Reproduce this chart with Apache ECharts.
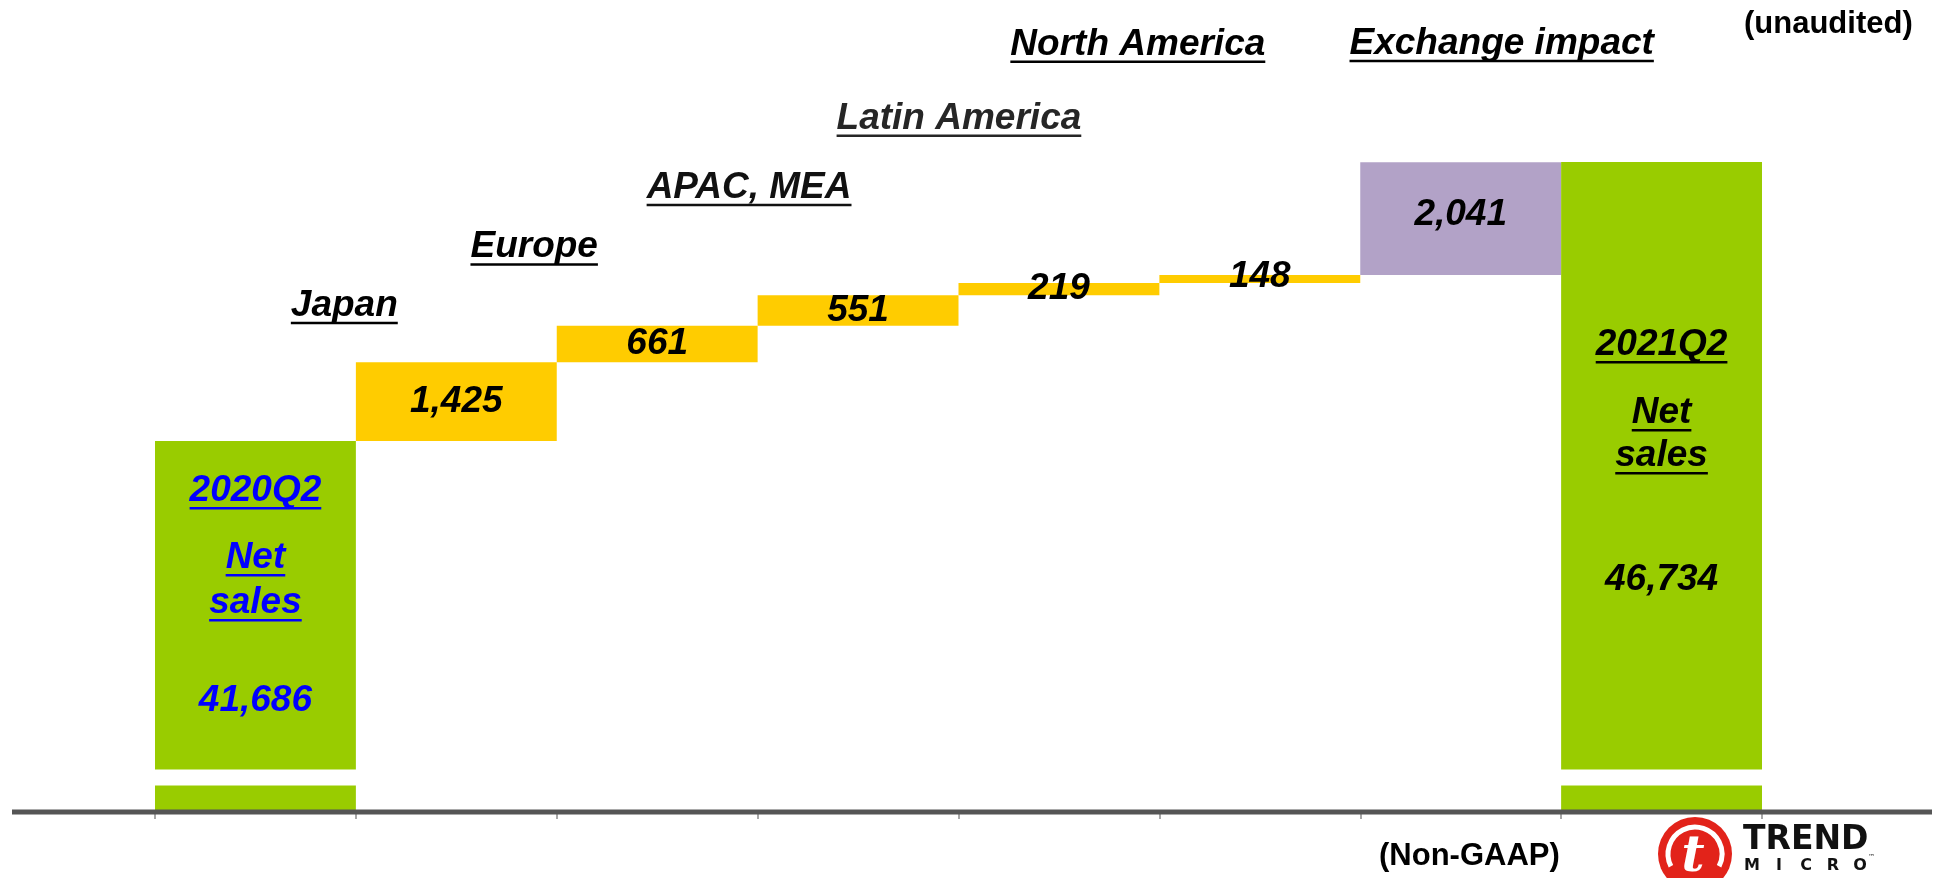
<!DOCTYPE html>
<html>
<head>
<meta charset="utf-8">
<script src="https://cdn.jsdelivr.net/npm/echarts@6/dist/echarts.min.js"></script>
<style>
  html, body { margin: 0; padding: 0; background: #fff; }
  #chart { width: 1939px; height: 878px; }
</style>
</head>
<body>
<div id="chart"></div>
<script>
// Net sales bridge 2020Q2 -> 2021Q2 (JPY million)
const categories = ['2020Q2 Net sales', 'Japan', 'Europe', 'APAC, MEA', 'Latin America', 'North America', 'Exchange impact', '2021Q2 Net sales'];
const openingSales = 41686;
const regionGrowth = [1425, 661, 551, 219, 148];
const exchangeImpact = 2041;
const closingSales = 46734;
const stepHeadings = ['Japan', 'Europe', 'APAC, MEA', 'Latin America', 'North America', 'Exchange impact'];
const openingTitle = ['2020Q2', 'Net', 'sales'];
const closingTitle = ['2021Q2', 'Net', 'sales'];

const FONT = '"Liberation Sans", Arial, sans-serif';
const GREEN = '#99CC00', YELLOW = '#FFCC00', PURPLE = '#B2A2C7';
const fmt = v => v.toLocaleString('en-US');

// canvas used to size the underline strokes
const measureCtx = document.createElement('canvas').getContext('2d');
function textWidth(text, size) {
  measureCtx.font = `italic bold ${size}px ${FONT}`;
  return measureCtx.measureText(text).width;
}

// Build a rich-text block: each entry is a text line, optionally underlined,
// followed by a vertical gap (the underline line's height).
function richBlock(entries, color) {
  const rich = {};
  const parts = [];
  entries.forEach((e, i) => {
    const t = 't' + i, u = 'u' + i;
    rich[t] = { fontFamily: FONT, fontSize: 37, fontWeight: 'bold', fontStyle: 'italic', color, lineHeight: 32 };
    parts.push(`{${t}|${e.text}}`);
    if (e.after != null) {
      rich[u] = {
        width: e.underline ? textWidth(e.text, 37) : 1,
        height: 2.5,
        backgroundColor: e.underline ? color : 'transparent',
        verticalAlign: 'top',
        lineHeight: e.after
      };
      parts.push(`{${u}|}`);
    }
  });
  return { formatter: parts.join('\n'), rich, lineHeight: 1 };
}

// waterfall pieces
const n = categories.length;
const baseData = new Array(n).fill('-');
const growthData = new Array(n).fill('-');
const fxData = new Array(n).fill('-');
const totalData = new Array(n).fill('-');
const stepTops = [];
let running = openingSales;
regionGrowth.forEach((v, i) => {
  baseData[i + 1] = running;
  growthData[i + 1] = v;
  running += v;
  stepTops.push(running);
});
baseData[6] = running;
fxData[6] = exchangeImpact;
running += exchangeImpact;
stepTops.push(running);

// small vertical nudges for the in-bar value labels
growthData[5] = { value: growthData[5], label: { offset: [0, -2] } };
fxData[6] = { value: fxData[6], label: { offset: [0, -4] } };

const openingLabel = richBlock([
  { text: openingTitle[0], underline: true, after: 35 },
  { text: openingTitle[1], underline: true, after: 13 },
  { text: openingTitle[2], underline: true, after: 66 },
  { text: fmt(openingSales) }
], '#0000FF');
const closingLabel = richBlock([
  { text: closingTitle[0], underline: true, after: 36 },
  { text: closingTitle[1], underline: true, after: 11 },
  { text: closingTitle[2], underline: true, after: 92 },
  { text: fmt(closingSales) }
], '#000000');

totalData[0] = {
  value: openingSales,
  label: Object.assign({ show: true, position: 'insideTop', distance: 0, offset: [0, 34] }, openingLabel)
};
totalData[7] = {
  value: closingSales,
  label: Object.assign({ show: true, position: 'insideTop', distance: 0, offset: [0, 167] }, closingLabel)
};

// headings above each step, shifted relative to the step's top
const headingOffsets = [[-112, -55], [-123, -77], [-109, -106], [-100, -163], [-122, -229], [41, -117]];
const headingColors = ['#000', '#000', '#111', '#262626', '#000', '#000'];
const headingData = stepHeadings.map((name, i) => ({
  value: [categories[i + 1], stepTops[i]],
  label: Object.assign({ show: true, position: 'inside', offset: headingOffsets[i] },
    richBlock([{ text: name, underline: true, after: 3 }], headingColors[i]))
}));

const valueLabel = {
  show: true, position: 'inside', color: '#000',
  fontFamily: FONT, fontSize: 37, fontWeight: 'bold', fontStyle: 'italic',
  formatter: p => fmt(p.value)
};

const chart = echarts.init(document.getElementById('chart'), null, { renderer: 'canvas' });
const option = {
  animation: false,
  backgroundColor: '#fff',
  grid: { left: 155, right: 177, top: 92, bottom: 66 },
  xAxis: {
    type: 'category',
    data: categories,
    axisLine: { show: false },
    axisTick: { show: true, interval: 0, length: 7, lineStyle: { color: '#8a8a8a', width: 1.5 } },
    axisLabel: { show: false },
    splitLine: { show: false }
  },
  yAxis: {
    type: 'value',
    min: 0,
    max: 48000,
    breaks: [{ start: 488, end: 35751, gap: 290 }],
    breakArea: {
      show: true,
      itemStyle: { color: '#fff', borderWidth: 0, borderColor: 'transparent', opacity: 1 },
      zigzagAmplitude: 0,
      expandOnClick: false
    },
    axisLine: { show: false },
    axisTick: { show: false },
    axisLabel: { show: false },
    splitLine: { show: false }
  },
  series: [
    {
      name: 'base', type: 'bar', stack: 'bridge', data: baseData,
      barCategoryGap: '0%', silent: true,
      itemStyle: { color: 'transparent' }
    },
    {
      name: 'Regional growth', type: 'bar', stack: 'bridge', data: growthData,
      itemStyle: { color: YELLOW }, label: valueLabel
    },
    {
      name: 'Exchange impact', type: 'bar', stack: 'bridge', data: fxData,
      itemStyle: { color: PURPLE }, label: valueLabel
    },
    {
      name: 'Net sales', type: 'bar', stack: 'bridge', data: totalData,
      itemStyle: { color: GREEN }
    },
    {
      name: 'headings', type: 'scatter', data: headingData,
      symbolSize: 1, itemStyle: { color: 'transparent', opacity: 1 }, silent: true, z: 10
    }
  ]
};
chart.setOption(option);

// baseline, notes and logo
const y0 = chart.convertToPixel({ yAxisIndex: 0 }, 0);
const logoX = 1695, logoY = 854;
const microLetters = ['M', 'I', 'C', 'R', 'O'];
chart.setOption({
  graphic: [
    { type: 'rect', z: 50, shape: { x: 12, y: y0 - 2.5, width: 1920, height: 5 }, style: { fill: '#555555' } },
    { type: 'text', z: 50, style: { text: '(unaudited)', x: 1744, y: 24, verticalAlign: 'middle', font: `bold 31px ${FONT}`, fill: '#000' } },
    { type: 'text', z: 50, style: { text: '(Non-GAAP)', x: 1379, y: 856, verticalAlign: 'middle', font: `bold 31px ${FONT}`, fill: '#000' } },
    { type: 'circle', z: 50, shape: { cx: logoX, cy: logoY, r: 37 }, style: { fill: '#E2231A' } },
    { type: 'arc', z: 51, shape: { cx: logoX, cy: logoY, r: 27, startAngle: Math.PI * 0.85, endAngle: Math.PI * 2.15 }, style: { stroke: '#fff', lineWidth: 5, fill: null } },
    { type: 'text', z: 52, style: { text: 't', x: logoX - 2, y: logoY + 4, align: 'center', verticalAlign: 'middle', font: `italic bold 50px "DejaVu Serif", serif`, fill: '#fff' } },
    { type: 'text', z: 50, style: { text: 'TREND', x: 1743, y: 840, verticalAlign: 'middle', font: `bold 33px "DejaVu Sans", sans-serif`, fill: '#111' } }
  ].concat(microLetters.map((ch, i) => ({
    type: 'text', z: 50,
    style: { text: ch, x: 1752 + i * 27, y: 866, align: 'center', verticalAlign: 'middle', font: `bold 16px "DejaVu Sans", sans-serif`, fill: '#111' }
  }))).concat([
    { type: 'text', z: 50, style: { text: '™', x: 1868, y: 857, verticalAlign: 'middle', font: `7px "DejaVu Sans", sans-serif`, fill: '#111' } }
  ])
});
</script>
</body>
</html>
